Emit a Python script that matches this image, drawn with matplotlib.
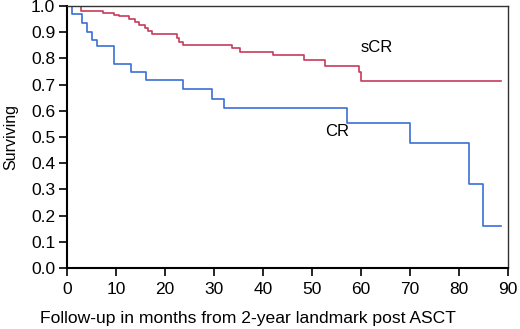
import matplotlib

matplotlib.use("Agg")
import matplotlib.pyplot as plt

# Kaplan-Meier steps (time in months, survival after the step)
cr_time = [0, 1.1, 3.0, 4.0, 5.2, 6.2, 9.5, 13.0, 16.1, 23.7, 29.7, 32.0, 57.2, 70.1, 82.0, 85.0, 88.5]
cr_surv = [1.0, 0.968, 0.934, 0.902, 0.872, 0.847, 0.779, 0.749, 0.718, 0.683, 0.645, 0.611, 0.555, 0.476, 0.319, 0.159, 0.159]

scr_time = [0, 2.8, 7.3, 9.5, 10.7, 12.7, 13.9, 14.7, 15.9, 16.6, 17.3, 22.4, 22.9, 23.7,
            33.6, 35.3, 42.1, 48.4, 52.7, 59.6, 60.1, 88.5]
scr_surv = [1.0, 0.981, 0.973, 0.966, 0.96, 0.95, 0.94, 0.927, 0.915, 0.906, 0.893, 0.879, 0.864, 0.851,
            0.839, 0.826, 0.812, 0.792, 0.772, 0.749, 0.714, 0.714]

x_ticks = list(range(0, 91, 10))
y_ticks = [i / 10 for i in range(11)]

plt.rcParams["font.family"] = ["Liberation Sans", "DejaVu Sans"]

fig = plt.figure(figsize=(5.2, 3.29), dpi=100)
ax = fig.add_axes([0.1288, 0.1854, 0.848, 0.7964])

ax.step(scr_time, scr_surv, where="post", color="#c83a5c", lw=1.2)
ax.step(cr_time, cr_surv, where="post", color="#3a6fd6", lw=1.2)

ax.text(60, 0.843, "sCR", fontsize=12, va="center", ha="left")
ax.text(52.6, 0.52, "CR", fontsize=12, va="center", ha="left")

ax.set_xlim(0, 90)
ax.set_ylim(0, 1.0)
ax.set_xticks(x_ticks)
ax.set_yticks(y_ticks)
ax.set_yticklabels([f"{v:.1f}" for v in y_ticks])
ax.tick_params(direction="out", length=6, width=1.2, labelsize=12.5, pad=2.5)
ax.tick_params(axis="x", pad=4)

for side in ("left", "bottom"):
    ax.spines[side].set_linewidth(1.5)
for side in ("top", "right"):
    ax.spines[side].set_linewidth(1.0)
    ax.spines[side].set_color("#333333")

ax.set_xlabel("Follow-up in months from 2-year landmark post ASCT", fontsize=12.6)
ax.xaxis.set_label_coords(0.41, -0.165)
ax.set_ylabel("Surviving", fontsize=11.5)
ax.yaxis.set_label_coords(-0.11, 0.5)

fig.savefig("out.png", dpi=100)
